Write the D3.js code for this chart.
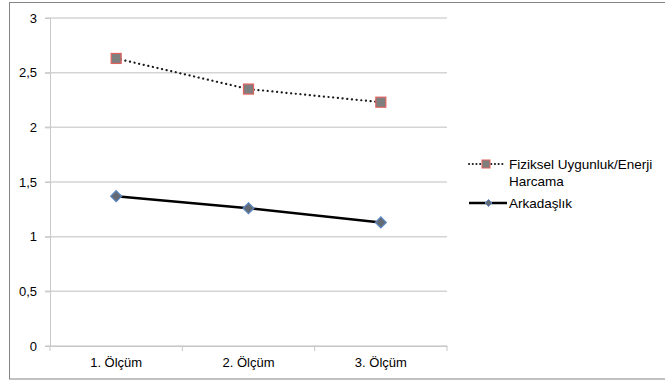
<!DOCTYPE html>
<html>
<head>
<meta charset="utf-8">
<script src="https://cdn.jsdelivr.net/npm/d3@7"></script>
<style>
  body { margin: 0; background: #fff; }
  svg { display: block; font-family: "Liberation Sans", Arial, sans-serif; }
</style>
</head>
<body>
<svg id="chart" width="665" height="383"></svg>
<script>
const categories = ['1. Ölçüm', '2. Ölçüm', '3. Ölçüm'];
const fiziksel = [2.63, 2.35, 2.23];
const arkadaslik = [1.37, 1.26, 1.13];
const yTicks = [0, 0.5, 1, 1.5, 2, 2.5, 3];

const svg = d3.select('#chart');
const fmt = d => String(d).replace('.', ',');
const fontFamily = '"Liberation Sans", Arial, sans-serif';

// outer frame (right edge falls outside the window)
svg.append('rect')
  .attr('x', 9.5).attr('y', 2.5)
  .attr('width', 700).attr('height', 376.5)
  .attr('fill', '#fff')
  .attr('stroke', '#858585');

const plotLeft = 50, plotRight = 447, plotTop = 18, plotBottom = 346;

const x = d3.scaleBand()
  .domain(categories)
  .range([plotLeft, plotRight]);
const y = d3.scaleLinear()
  .domain([0, 3])
  .range([plotBottom, plotTop]);

// gridlines
svg.append('g')
  .selectAll('line')
  .data(yTicks)
  .enter()
  .append('line')
  .attr('x1', plotLeft - 5).attr('x2', plotRight)
  .attr('y1', d => y(d)).attr('y2', d => y(d))
  .attr('stroke', '#d4d4d4')
  .attr('stroke-width', 1.5);

// y axis
const yAxis = svg.append('g')
  .attr('transform', 'translate(' + plotLeft + ',0)')
  .call(d3.axisLeft(y).tickValues(yTicks).tickFormat(fmt).tickSize(5).tickPadding(8));
yAxis.select('.domain').attr('stroke', '#c8c8c8');
yAxis.selectAll('.tick line').attr('stroke', '#c8c8c8');
yAxis.selectAll('text').attr('font-size', 13).attr('fill', '#000')
  .attr('font-family', fontFamily);

// x axis
const xAxis = svg.append('g')
  .attr('transform', 'translate(0,' + plotBottom + ')')
  .call(d3.axisBottom(x).tickSize(0).tickPadding(12));
xAxis.select('.domain').attr('stroke', '#c8c8c8');
xAxis.selectAll('text').attr('font-size', 13).attr('fill', '#000')
  .attr('font-family', fontFamily);
svg.append('g')
  .selectAll('line')
  .data(categories.concat(['end']))
  .enter()
  .append('line')
  .attr('x1', (d, i) => plotLeft + i * x.step()).attr('x2', (d, i) => plotLeft + i * x.step())
  .attr('y1', plotBottom).attr('y2', plotBottom + 5)
  .attr('stroke', '#c8c8c8');

const cx = (d, i) => x(categories[i]) + x.bandwidth() / 2;
const line = d3.line().x(cx).y(d => y(d));

// Fiziksel Uygunluk/Enerji Harcama
svg.append('path')
  .datum(fiziksel)
  .attr('d', line)
  .attr('fill', 'none')
  .attr('stroke', '#1a1a1a')
  .attr('stroke-width', 2.2)
  .attr('stroke-linecap', 'round')
  .attr('stroke-dasharray', '0.1,4.6');
svg.append('g')
  .selectAll('rect')
  .data(fiziksel)
  .enter()
  .append('rect')
  .attr('x', (d, i) => cx(d, i) - 5)
  .attr('y', d => y(d) - 5)
  .attr('width', 10).attr('height', 10)
  .attr('fill', '#7f7f7f')
  .attr('stroke', '#e0625e')
  .attr('stroke-width', 1.2);

// Arkadaşlık
svg.append('path')
  .datum(arkadaslik)
  .attr('d', line)
  .attr('fill', 'none')
  .attr('stroke', '#000')
  .attr('stroke-width', 2.5);
svg.append('g')
  .selectAll('path')
  .data(arkadaslik)
  .enter()
  .append('path')
  .attr('d', (d, i) => {
    const px = cx(d, i), py = y(d), r = 5.5;
    return 'M' + px + ',' + (py - r) + 'L' + (px + r) + ',' + py +
      'L' + px + ',' + (py + r) + 'L' + (px - r) + ',' + py + 'Z';
  })
  .attr('fill', '#636a73')
  .attr('stroke', '#5b86c0')
  .attr('stroke-width', 1.2);

// legend
const legend = svg.append('g').attr('font-size', 13.5).attr('font-family', fontFamily);
const l1 = legend.append('g').attr('transform', 'translate(468,164)');
l1.append('line')
  .attr('x1', 1).attr('x2', 36)
  .attr('stroke', '#1a1a1a').attr('stroke-width', 2)
  .attr('stroke-linecap', 'round')
  .attr('stroke-dasharray', '0.1,3.6');
l1.append('rect')
  .attr('x', 14).attr('y', -4).attr('width', 8).attr('height', 8)
  .attr('fill', '#7f7f7f').attr('stroke', '#e0625e').attr('stroke-width', 1);
l1.append('text').attr('x', 41).attr('y', 5).text('Fiziksel Uygunluk/Enerji');
l1.append('text').attr('x', 41).attr('y', 22).text('Harcama');

const l2 = legend.append('g').attr('transform', 'translate(468,203)');
l2.append('line')
  .attr('x1', 1).attr('x2', 39)
  .attr('stroke', '#000').attr('stroke-width', 2.5);
l2.append('path')
  .attr('d', 'M20.5,-3.5L24,0L20.5,3.5L17,0Z')
  .attr('fill', '#636a73').attr('stroke', '#5b86c0').attr('stroke-width', 1);
l2.append('text').attr('x', 41).attr('y', 5).text('Arkadaşlık');
</script>
</body>
</html>
